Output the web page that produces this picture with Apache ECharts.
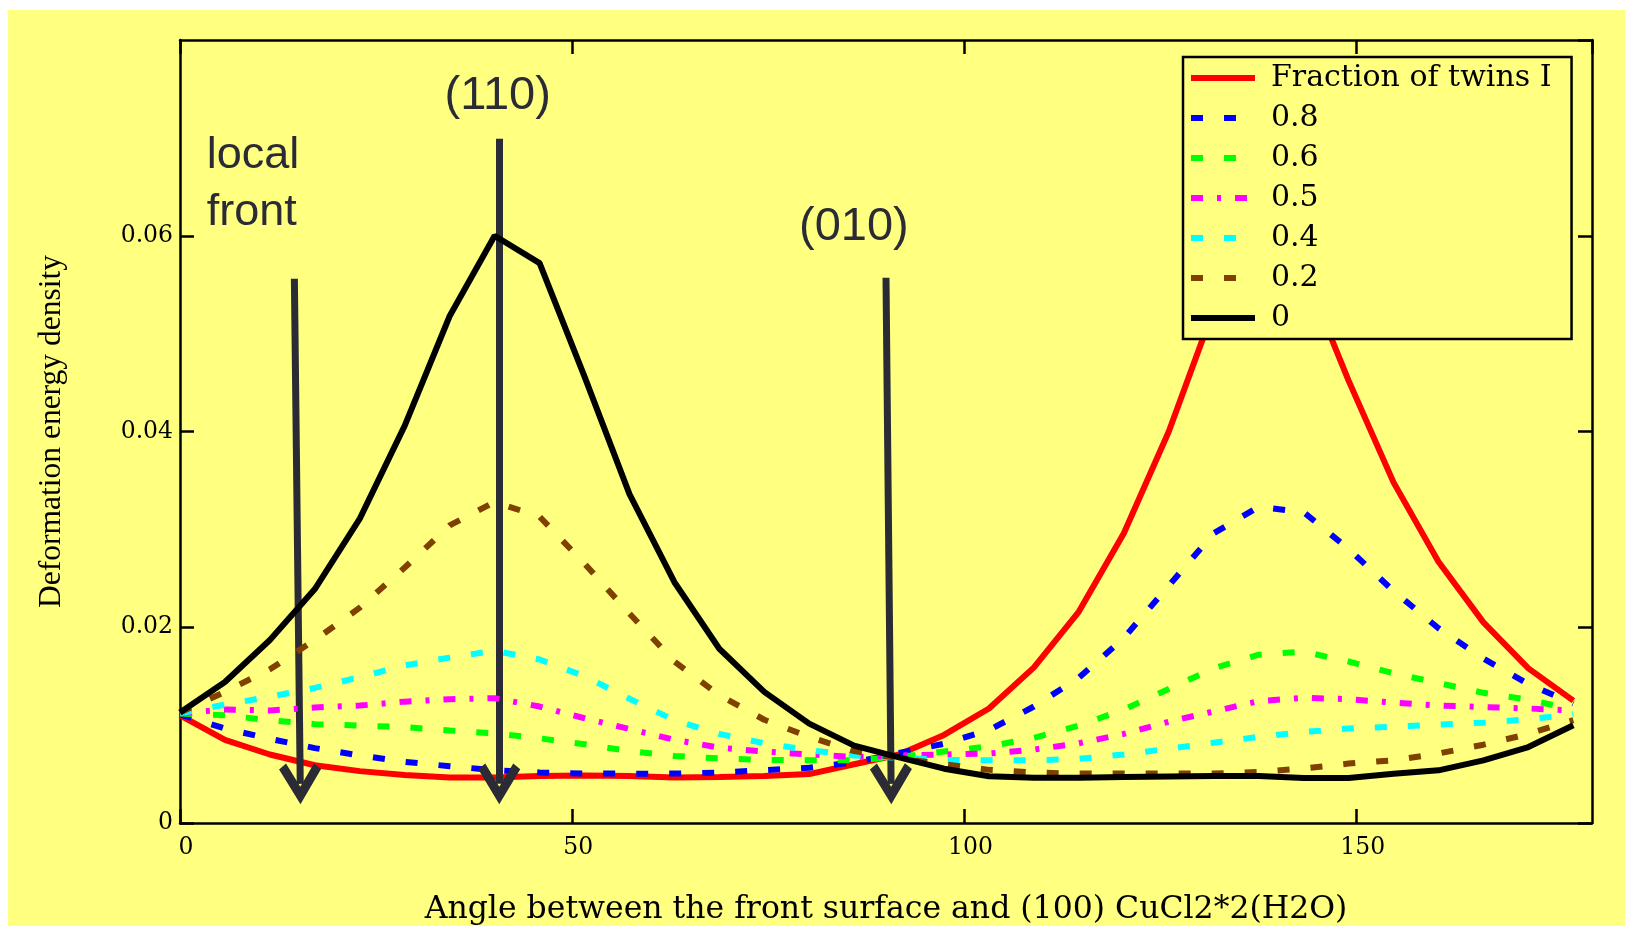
<!DOCTYPE html>
<html>
<head>
<meta charset="utf-8">
<script src="https://cdn.jsdelivr.net/npm/echarts@6/dist/echarts.min.js"></script>
<style>
  html, body { margin: 0; padding: 0; background: #ffffff; width: 1625px; height: 926px; overflow: hidden; }
  #chart { position: absolute; left: 8px; top: 10px; width: 1617px; height: 916px; background: #ffff80; }
</style>
</head>
<body>
<div id="chart"></div>
<script>
// Angle between the front surface and (100), degrees (0.1 rad steps)
const angles = [0, 5.73, 11.46, 17.19, 22.92, 28.65, 34.38, 40.11, 45.84, 51.57, 57.30, 63.03,
  68.75, 74.48, 80.21, 85.94, 91.67, 97.40, 103.13, 108.86, 114.59, 120.32, 126.05, 131.78,
  137.51, 143.24, 148.97, 154.70, 160.43, 166.16, 171.89, 177.62];

// Deformation energy density for each fraction of twins I
const frac1 = [0.0110, 0.0085, 0.0070, 0.0059, 0.0053, 0.0049, 0.00465, 0.00465, 0.0048, 0.00485,
  0.0048, 0.00465, 0.0047, 0.0048, 0.0050, 0.0060, 0.0070, 0.0090, 0.0117, 0.0159, 0.0216, 0.0296,
  0.0400, 0.0525, 0.0590, 0.0565, 0.0452, 0.0348, 0.0267, 0.0205, 0.0158, 0.0125];
const frac08 = [0.0111, 0.00965, 0.0086, 0.00765, 0.0069, 0.00625, 0.0058, 0.0054, 0.00517, 0.00506,
  0.00504, 0.00505, 0.00515, 0.0054, 0.00565, 0.0062, 0.00715, 0.0081, 0.0095, 0.0119, 0.01485, 0.0189,
  0.02425, 0.0296, 0.0323, 0.03175, 0.0280, 0.0237, 0.0199, 0.0168, 0.0142, 0.0122];
const frac06 = [0.0112, 0.0110, 0.0105, 0.0101, 0.00995, 0.0098, 0.00945, 0.00915, 0.00865, 0.00805,
  0.00735, 0.00685, 0.0066, 0.00645, 0.0064, 0.0064, 0.00675, 0.0073, 0.00783, 0.0087, 0.00995, 0.0116,
  0.0137, 0.0158, 0.0172, 0.0175, 0.0165, 0.0153, 0.0143, 0.0133, 0.0126, 0.0116];
const frac05 = [0.0112, 0.0116, 0.0115, 0.0118, 0.0120, 0.0124, 0.01265, 0.01275, 0.0119, 0.0107,
  0.0096, 0.0085, 0.0077, 0.0073, 0.0070, 0.00675, 0.0069, 0.0070, 0.0071, 0.0075, 0.00815, 0.0091,
  0.01035, 0.0114, 0.01245, 0.0128, 0.01265, 0.0123, 0.0120, 0.01185, 0.0117, 0.0115];
const frac04 = [0.0112, 0.0121, 0.0129, 0.0138, 0.0149, 0.0161, 0.0169, 0.0176, 0.0167, 0.0150,
  0.0127, 0.0105, 0.0091, 0.00815, 0.00745, 0.0069, 0.00665, 0.00645, 0.0064, 0.0064, 0.00655, 0.0070,
  0.0076, 0.0082, 0.0088, 0.0093, 0.00965, 0.00985, 0.01005, 0.01025, 0.0106, 0.0111];
const frac02 = [0.0113, 0.0134, 0.0157, 0.0187, 0.0220, 0.0261, 0.0304, 0.0328, 0.0313, 0.0265,
  0.0214, 0.0165, 0.01305, 0.01055, 0.0088, 0.00735, 0.0066, 0.0060, 0.00543, 0.00515, 0.00505, 0.00505,
  0.00505, 0.00505, 0.00522, 0.00557, 0.00607, 0.0064, 0.0071, 0.0080, 0.0091, 0.0105];
const frac0 = [0.0113, 0.0144, 0.0187, 0.0239, 0.0311, 0.0406, 0.0518, 0.0600, 0.0572, 0.0456,
  0.0336, 0.0246, 0.0178, 0.0134, 0.01015, 0.0079, 0.0067, 0.00555, 0.00477, 0.00463, 0.00463, 0.0047,
  0.00476, 0.00479, 0.00479, 0.0046, 0.0046, 0.00504, 0.00538, 0.0064, 0.00776, 0.00998];

const seriesNames = ['Fraction of twins I', '0.8', '0.6', '0.5', '0.4', '0.2', '0'];
const seriesValues = [frac1, frac08, frac06, frac05, frac04, frac02, frac0];

const xTicks = { min: 0, max: 180, interval: 50 };
const yTicks = { min: 0, max: 0.08, interval: 0.02 };

const xTitle = 'Angle between the front surface and (100) CuCl2*2(H2O)';
const yTitle = 'Deformation energy density';

// Orientation arrows: [top angle, top value, head angle, head value]
const arrows = [
  [14.58, 0.0556, 15.33, 0.0040],
  [40.70, 0.0699, 40.70, 0.0040],
  [90.00, 0.0557, 90.65, 0.0040]
];
const notes = [
  { text: 'local\nfront', x: 3.4, y: 0.0653, align: 'left', size: 45 },
  { text: '(110)', x: 40.5, y: 0.0743, align: 'center', size: 47 },
  { text: '(010)', x: 85.9, y: 0.0609, align: 'center', size: 47 }
];

const styles = [
  { color: '#ff0000', type: 'solid' },
  { color: '#0000ff', type: [12, 21] },
  { color: '#00ff00', type: [12, 21] },
  { color: '#ff00ff', type: [12, 14, 4, 14] },
  { color: '#00ffff', type: [12, 21] },
  { color: '#804000', type: [12, 21] },
  { color: '#000000', type: 'solid' }
];

const serif = "'DejaVu Serif', serif";
const ink = '#2b2b36';
// open chevron arrow head, tip at the top of the path
const arrowHead = 'path://M0,0 L18,30 L12,35 L0,15 L-12,35 L-18,30 Z';

const chart = echarts.init(document.getElementById('chart'), null, { renderer: 'canvas' });

const series = seriesNames.map((name, i) => ({
  name: name,
  type: 'line',
  data: angles.map((a, j) => [a, seriesValues[i][j]]),
  symbol: 'none',
  smooth: false,
  lineStyle: { color: styles[i].color, width: 6, type: styles[i].type, cap: 'butt' },
  itemStyle: { color: styles[i].color },
  emphasis: { disabled: true },
  animation: false,
  z: 2 + i
}));

series.push({
  name: 'notes',
  type: 'line',
  data: [],
  silent: true,
  animation: false,
  markLine: {
    silent: true,
    animation: false,
    symbol: 'none',
    label: { show: false },
    lineStyle: { color: ink, width: 7, type: 'solid', cap: 'butt' },
    emphasis: { disabled: true },
    data: arrows.map(a => [
      { coord: [a[0], a[1]], symbol: 'none' },
      { coord: [a[2], a[3]], symbol: arrowHead, symbolSize: 42, symbolKeepAspect: true }
    ])
  },
  markPoint: {
    silent: true,
    animation: false,
    symbol: 'circle',
    symbolSize: 0,
    itemStyle: { color: 'transparent' },
    label: { show: true },
    data: notes.map(n => ({
      coord: [n.x, n.y],
      label: {
        show: true,
        position: [0, 0],
        formatter: n.text,
        align: n.align,
        verticalAlign: 'middle',
        color: ink,
        fontFamily: "'Liberation Sans', Arial, sans-serif",
        fontSize: n.size,
        lineHeight: 57
      }
    }))
  }
});

const axisLineStyle = { color: '#000', width: 2.5 };
const tickStyle = { show: true, inside: true, length: 14, lineStyle: axisLineStyle };

chart.setOption({
  animation: false,
  grid: { left: 172, right: 33, top: 30, bottom: 103, containLabel: false, outerBoundsMode: 'none' },
  legend: {
    data: seriesNames,
    orient: 'vertical',
    left: 1175,
    top: 47,
    itemWidth: 64,
    itemHeight: 14,
    itemGap: 10,
    padding: [6, 20, 6, 5],
    backgroundColor: '#ffff80',
    borderColor: '#000',
    borderWidth: 2.5,
    selectedMode: false,
    itemStyle: { opacity: 0 },
    lineStyle: { width: 6 },
    textStyle: { fontFamily: serif, fontSize: 30, color: '#000', lineHeight: 30, padding: [0, 0, 0, 11] }
  },
  xAxis: [
    {
      type: 'value', position: 'bottom', min: xTicks.min, max: xTicks.max, interval: xTicks.interval,
      name: xTitle, nameLocation: 'middle', nameGap: 71,
      nameTextStyle: { fontFamily: serif, fontSize: 31.5, color: '#000' },
      axisLine: { show: true, onZero: false, lineStyle: axisLineStyle },
      axisTick: tickStyle,
      axisLabel: { fontFamily: serif, fontSize: 23.5, color: '#000', margin: 13, showMaxLabel: false, padding: [0, 0, 0, 12] },
      splitLine: { show: false }
    },
    {
      type: 'value', position: 'top', min: xTicks.min, max: xTicks.max, interval: xTicks.interval,
      axisLine: { show: true, onZero: false, lineStyle: axisLineStyle },
      axisTick: tickStyle,
      axisLabel: { show: false },
      splitLine: { show: false }
    }
  ],
  yAxis: [
    {
      type: 'value', position: 'left', min: yTicks.min, max: yTicks.max, interval: yTicks.interval,
      name: yTitle, nameLocation: 'middle', nameGap: 112,
      nameTextStyle: { fontFamily: "'Liberation Serif', serif", fontSize: 31.5, color: '#000' },
      axisLine: { show: true, onZero: false, lineStyle: axisLineStyle },
      axisTick: tickStyle,
      axisLabel: { fontFamily: serif, fontSize: 23.5, color: '#000', margin: 7, showMaxLabel: false, padding: [9, 0, 0, 0] },
      splitLine: { show: false }
    },
    {
      type: 'value', position: 'right', min: yTicks.min, max: yTicks.max, interval: yTicks.interval,
      axisLine: { show: true, onZero: false, lineStyle: axisLineStyle },
      axisTick: tickStyle,
      axisLabel: { show: false },
      splitLine: { show: false }
    }
  ],
  series: series
});
</script>
</body>
</html>
